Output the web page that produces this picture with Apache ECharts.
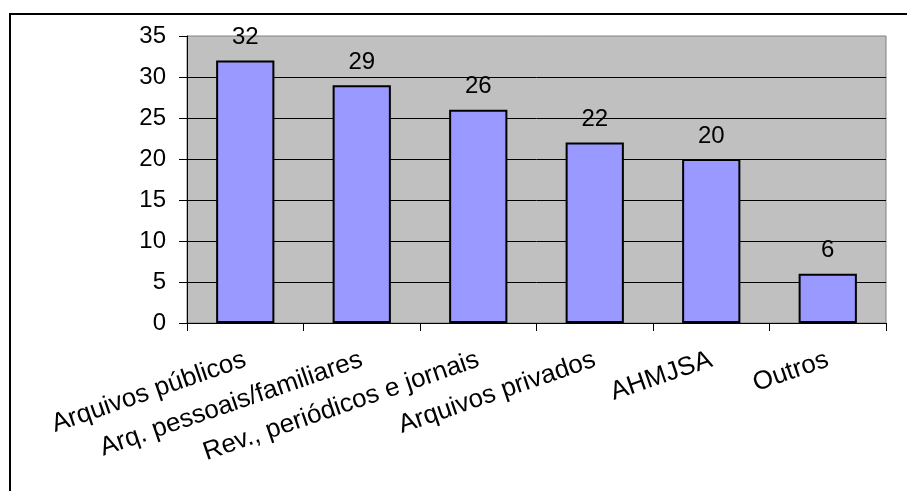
<!DOCTYPE html>
<html>
<head>
<meta charset="utf-8">
<script src="https://cdn.jsdelivr.net/npm/echarts@6/dist/echarts.min.js"></script>
<style>
  html, body { margin: 0; padding: 0; background: #fff; }
  #chart { width: 907px; height: 491px; }
</style>
</head>
<body>
<div id="chart"></div>
<script>
// categories and values
const categories = ['Arquivos públicos', 'Arq. pessoais/familiares', 'Rev., periódicos e jornais', 'Arquivos privados', 'AHMJSA', 'Outros']
const values = [32, 29, 26, 22, 20, 6]
const yTicks = [0, 5, 10, 15, 20, 25, 30, 35]

const font = '"Liberation Sans", Arial, sans-serif'
const mychart = echarts.init(document.getElementById('chart'))

mychart.setOption({
  animation: false,
  backgroundColor: '#fff',
  textStyle: { fontFamily: font },
  graphic: [{
    type: 'rect',
    shape: { x: 10, y: 14, width: 1200, height: 1200 },
    style: { fill: 'none', stroke: '#000', lineWidth: 2 },
    silent: true
  }],
  grid: {
    left: 187,
    right: 21,
    top: 36,
    bottom: 168,
    show: true,
    backgroundColor: '#C0C0C0',
    borderColor: '#808080',
    borderWidth: 1
  },
  xAxis: {
    type: 'category',
    data: categories,
    axisLine: { lineStyle: { color: '#000', width: 1 } },
    axisTick: { show: true, length: 8, lineStyle: { color: '#000' } },
    axisLabel: {
      rotate: 19,
      interval: 0,
      margin: 36,
      color: '#000',
      fontSize: 26,
      fontFamily: font
    }
  },
  yAxis: {
    type: 'value',
    min: yTicks[0],
    max: yTicks[yTicks.length - 1],
    interval: 5,
    axisLine: { show: true, lineStyle: { color: '#000', width: 1 } },
    axisTick: { show: true, length: 8, lineStyle: { color: '#000' } },
    axisLabel: { margin: 21, color: '#000', fontSize: 24, fontFamily: font },
    splitLine: { show: true, showMaxLine: false, lineStyle: { color: '#000', width: 1 } }
  },
  series: [{
    type: 'bar',
    data: values,
    barCategoryGap: '50%',
    itemStyle: { color: '#9999FF', borderColor: '#000', borderWidth: 2 },
    label: {
      show: true,
      position: 'top',
      distance: 11,
      color: '#000',
      fontSize: 24,
      fontFamily: font
    }
  }]
})
</script>
</body>
</html>
